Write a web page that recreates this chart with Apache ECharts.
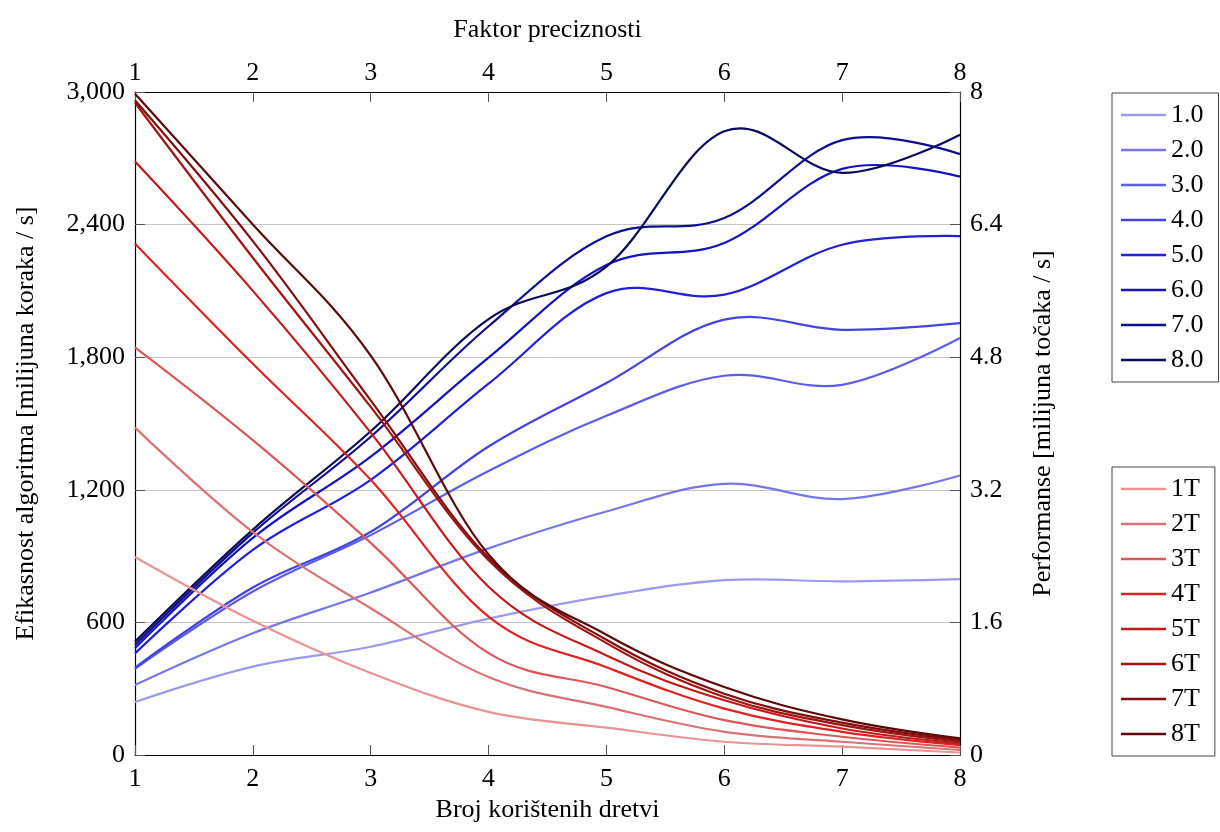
<!DOCTYPE html>
<html>
<head>
<meta charset="utf-8">
<title>Efikasnost i performanse</title>
<script src="https://cdn.jsdelivr.net/npm/echarts@6/dist/echarts.min.js"></script>
<style>
  html, body { margin: 0; padding: 0; background: #ffffff; }
  #chart { width: 1220px; height: 832px; }
</style>
</head>
<body>
<div id="chart"></div>
<script>
// Shared x positions (threads on the bottom axis, precision factor on the top axis)
const xValues = [1, 2, 3, 4, 5, 6, 7, 8];

// Algorithm efficiency [million steps / s] per precision factor, vs. number of threads
const eff_1_0 = [240, 400, 490, 617, 720, 791, 786, 796];
const eff_2_0 = [317, 551, 735, 935, 1102, 1227, 1158, 1265];
const eff_3_0 = [390, 740, 995, 1285, 1535, 1716, 1675, 1887];
const eff_4_0 = [395, 758, 1010, 1396, 1683, 1970, 1924, 1954];
const eff_5_0 = [460, 928, 1245, 1680, 2090, 2083, 2309, 2348];
const eff_6_0 = [483, 982, 1350, 1798, 2217, 2317, 2652, 2617];
const eff_7_0 = [498, 1005, 1440, 1940, 2347, 2430, 2782, 2719];
const eff_8_0 = [513, 1020, 1465, 1972, 2210, 2822, 2634, 2807];

// Performance [million points / s] per thread count, vs. precision factor
const perf_1T = [2.39, 1.62, 0.99, 0.52, 0.33, 0.16, 0.10, 0.03];
const perf_2T = [3.95, 2.69, 1.77, 0.94, 0.58, 0.28, 0.16, 0.06];
const perf_3T = [4.92, 3.80, 2.56, 1.23, 0.82, 0.42, 0.22, 0.09];
const perf_4T = [6.17, 4.72, 3.32, 1.67, 1.06, 0.56, 0.28, 0.12];
const perf_5T = [7.16, 5.60, 3.89, 2.03, 1.20, 0.66, 0.32, 0.14];
const perf_6T = [7.87, 6.00, 4.20, 2.35, 1.35, 0.70, 0.36, 0.16];
const perf_7T = [7.90, 6.20, 4.28, 2.38, 1.39, 0.74, 0.39, 0.18];
const perf_8T = [7.98, 6.40, 4.82, 2.42, 1.45, 0.82, 0.43, 0.20];

const blueNames = ['1.0', '2.0', '3.0', '4.0', '5.0', '6.0', '7.0', '8.0'];
const redNames = ['1T', '2T', '3T', '4T', '5T', '6T', '7T', '8T'];

// Tick labels
const leftTickLabels = ['0', '600', '1,200', '1,800', '2,400', '3,000'];
const rightTickLabels = ['0', '1.6', '3.2', '4.8', '6.4', '8'];
const xTickLabels = ['1', '2', '3', '4', '5', '6', '7', '8'];

const blueData = [eff_1_0, eff_2_0, eff_3_0, eff_4_0, eff_5_0, eff_6_0, eff_7_0, eff_8_0];
const redData = [perf_1T, perf_2T, perf_3T, perf_4T, perf_5T, perf_6T, perf_7T, perf_8T];

const blueColors = ['#9a9aee', '#7676e8', '#5e5ee4', '#4343de', '#2020d4', '#1414bc', '#0e0e8e', '#0b0b58'];
const redColors = ['#e99494', '#d97373', '#db5858', '#dc2424', '#c21a1a', '#a01414', '#820e0e', '#5c0909'];

const FONT = '"Liberation Serif", "DejaVu Serif", serif';
const LINE_WIDTH = 2.2;
// Tension of the cardinal spline drawn through the data points (in pixel space)
const TENSION = 0.18;

// Builds an SVG path: cubic segments whose handles follow the neighbouring points
function splinePath(pts) {
  let d = 'M' + pts[0][0] + ' ' + pts[0][1];
  const n = pts.length;
  for (let i = 0; i < n - 1; i++) {
    const p0 = pts[i];
    const p1 = pts[i + 1];
    const prev = pts[i - 1] || p0;
    const next = pts[i + 2] || p1;
    const c1 = i === 0 ? p0 : [p0[0] + TENSION * (p1[0] - prev[0]), p0[1] + TENSION * (p1[1] - prev[1])];
    const c2 = i === n - 2 ? p1 : [p1[0] - TENSION * (next[0] - p0[0]), p1[1] - TENSION * (next[1] - p0[1])];
    d += ' C' + c1[0] + ' ' + c1[1] + ' ' + c2[0] + ' ' + c2[1] + ' ' + p1[0] + ' ' + p1[1];
  }
  return d;
}

function makeSeries(name, ys, color, xAxisIndex, yAxisIndex) {
  return {
    name: name,
    type: 'custom',
    coordinateSystem: 'cartesian2d',
    xAxisIndex: xAxisIndex,
    yAxisIndex: yAxisIndex,
    data: xValues.map((x, i) => [x, ys[i]]),
    encode: { x: 0, y: 1 },
    itemStyle: { color: color },
    silent: true,
    renderItem: function (params, api) {
      // the whole curve is drawn once, from the first item
      if (params.dataIndex !== 0) return null;
      const pts = xValues.map((x, i) => api.coord([x, ys[i]]));
      return {
        type: 'path',
        shape: { pathData: splinePath(pts) },
        style: { fill: 'none', stroke: color, lineWidth: LINE_WIDTH }
      };
    }
  };
}

const series = [];
blueNames.forEach((name, i) => series.push(makeSeries(name, blueData[i], blueColors[i], 0, 0)));
redNames.forEach((name, i) => series.push(makeSeries(name, redData[i], redColors[i], 1, 1)));

const axisLineStyle = { show: true, onZero: false, lineStyle: { color: '#000', width: 1.2 } };
const tickStyle = { show: true, inside: true, length: 10, lineStyle: { color: '#555', width: 1 } };
const labelFont = { color: '#000', fontFamily: FONT, fontSize: 26 };
const nameFont = { color: '#000', fontFamily: FONT, fontSize: 26 };

const legendBase = {
  orient: 'vertical',
  left: 1112,
  padding: [9, 15, 9, 9],
  icon: 'rect',
  itemWidth: 45,
  itemHeight: 2.6,
  itemGap: 9,
  borderColor: '#444',
  borderWidth: 1,
  backgroundColor: '#fff',
  textStyle: { color: '#000', fontFamily: FONT, fontSize: 26 },
  selectedMode: false
};

const option = {
  animation: false,
  backgroundColor: '#ffffff',
  grid: { left: 135, right: 260, top: 92, bottom: 77, containLabel: false },
  legend: [
    Object.assign({}, legendBase, { top: 93, data: blueNames }),
    Object.assign({}, legendBase, { top: 467, data: redNames })
  ],
  xAxis: [
    {
      type: 'value', position: 'bottom', min: 1, max: 8, interval: 1,
      name: 'Broj korištenih dretvi', nameLocation: 'middle', nameGap: 37,
      nameTextStyle: nameFont,
      axisLine: axisLineStyle, axisTick: tickStyle,
      axisLabel: Object.assign({ margin: 11, formatter: (v, i) => xTickLabels[i] }, labelFont),
      splitLine: { show: false }
    },
    {
      type: 'value', position: 'top', min: 1, max: 8, interval: 1,
      name: 'Faktor preciznosti', nameLocation: 'middle', nameGap: 49,
      nameTextStyle: nameFont,
      axisLine: axisLineStyle, axisTick: tickStyle,
      axisLabel: Object.assign({ margin: 6, formatter: (v, i) => xTickLabels[i] }, labelFont),
      splitLine: { show: false }
    }
  ],
  yAxis: [
    {
      type: 'value', position: 'left', min: 0, max: 3000, interval: 600,
      name: 'Efikasnost algoritma [milijuna koraka / s]', nameLocation: 'middle', nameGap: 96, nameRotate: 90,
      nameTextStyle: nameFont,
      axisLine: axisLineStyle, axisTick: tickStyle,
      axisLabel: Object.assign({ margin: 10, formatter: (v, i) => leftTickLabels[i] }, labelFont),
      splitLine: { show: true, lineStyle: { color: '#c4c4c4', width: 1 } }
    },
    {
      type: 'value', position: 'right', min: 0, max: 8, interval: 1.6,
      name: 'Performanse [milijuna točaka / s]', nameLocation: 'middle', nameGap: 70, nameRotate: 90,
      nameTextStyle: nameFont,
      axisLine: axisLineStyle, axisTick: tickStyle,
      axisLabel: Object.assign({ margin: 10, formatter: (v, i) => rightTickLabels[i] }, labelFont),
      splitLine: { show: false }
    }
  ],
  series: series
};

const chart = echarts.init(document.getElementById('chart'), null, { renderer: 'canvas' });
chart.setOption(option);
</script>
</body>
</html>
